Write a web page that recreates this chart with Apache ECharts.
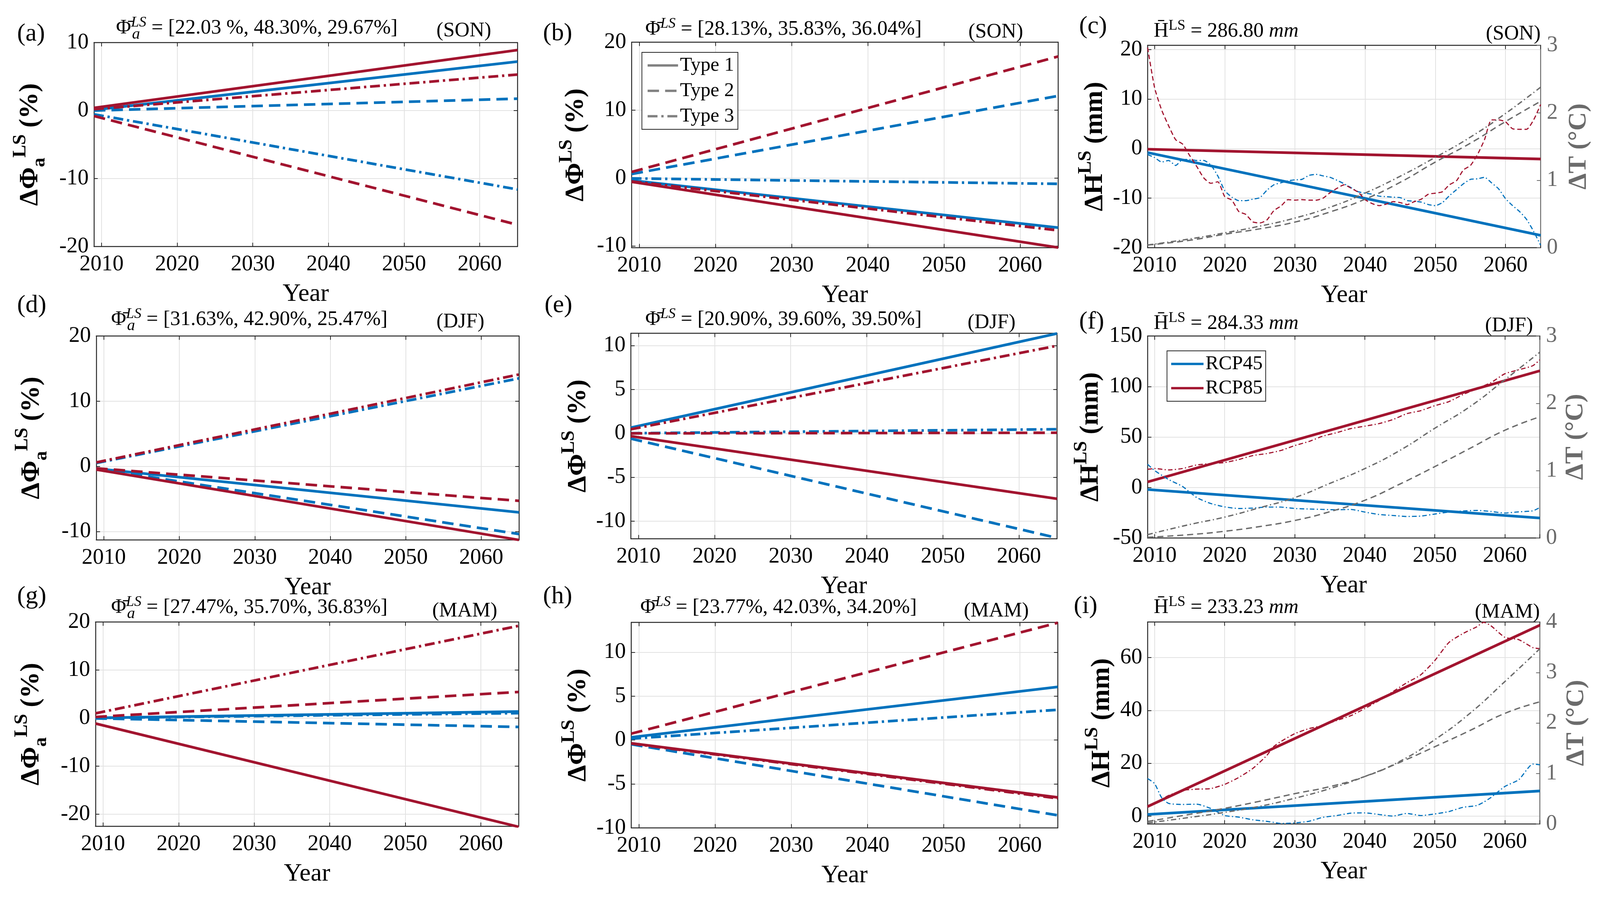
<!DOCTYPE html>
<html>
<head>
<meta charset="utf-8">
<title>LS trends</title>
<script src="https://cdn.jsdelivr.net/npm/echarts@6.0.0/dist/echarts.min.js"></script>
<style>
html, body { margin: 0; padding: 0; background: #fff; overflow: hidden; }
#chart { width: 100vw; height: 100vh; }
</style>
</head>
<body>
<div id="chart"></div>
<script>
var FONT = 'Liberation Serif';
var BLUE = '#0072BD';
var RED = '#A2142F';
var GREY = '#6b6b6b';
var INK = '#262626';
var GRID_LINE = '#e2e2e2';

// ---- data ----
var seasons = ['(SON)', '(DJF)', '(MAM)'];
var phiAMeans = ['[22.03 %, 48.30%, 29.67%]', '[31.63%, 42.90%, 25.47%]', '[27.47%, 35.70%, 36.83%]'];
var phiMeans = ['[28.13%, 35.83%, 36.04%]', '[20.90%, 39.60%, 39.50%]', '[23.77%, 42.03%, 34.20%]'];
var hMeans = ['286.80', '284.33', '233.23'];

// linear trends, [2009 value, 2065 value] for Type 1, Type 2, Type 3
var trendYears = [2009, 2065];
var phiA_SON_45 = [[0.1, 7.2], [0.0, 1.75], [-0.55, -11.6]];
var phiA_SON_85 = [[0.4, 8.9], [-0.8, -16.8], [0.2, 5.3]];
var phi_SON_45 = [[-0.35, -7.3], [0.6, 12.1], [-0.05, -0.85]];
var phi_SON_85 = [[-0.55, -10.23], [0.9, 17.9], [-0.5, -7.7]];
var phiA_DJF_45 = [[-0.35, -7.06], [-0.35, -10.4], [0.5, 13.5]];
var phiA_DJF_85 = [[-0.5, -11.3], [-0.3, -5.3], [0.6, 14.1]];
var phi_DJF_45 = [[0.65, 11.37], [-0.6, -11.9], [0.02, 0.47]];
var phi_DJF_85 = [[-0.32, -7.45], [0.0, 0.07], [0.47, 9.98]];
var phiA_MAM_45 = [[0.05, 1.37], [-0.05, -1.83], [0.05, 1.04]];
var phiA_MAM_85 = [[-1.12, -22.6], [0.25, 5.45], [1.0, 19.2]];
var phi_MAM_45 = [[0.32, 6.05], [-0.48, -8.57], [0.16, 3.45]];
var phi_MAM_85 = [[-0.36, -6.53], [0.73, 13.36], [-0.4, -6.64]];

// ΔH linear trends [2009, 2065]
var hTrend_SON_45 = [-0.8, -17.5];
var hTrend_SON_85 = [-0.12, -2.1];
var hTrend_DJF_45 = [-2.0, -30.2];
var hTrend_DJF_85 = [5.5, 115.6];
var hTrend_MAM_45 = [0.6, 9.5];
var hTrend_MAM_85 = [3.6, 72.3];

// ΔH running curves
var cYears = [2009, 2010, 2011, 2012, 2013, 2014, 2015, 2016, 2017, 2018,
  2019, 2020, 2021, 2022, 2023, 2024, 2025, 2026, 2027, 2028,
  2029, 2030, 2031, 2032, 2033, 2034, 2035, 2036, 2037, 2038,
  2039, 2040, 2041, 2042, 2043, 2044, 2045, 2046, 2047, 2048,
  2049, 2050, 2051, 2052, 2053, 2054, 2055, 2056, 2057, 2058,
  2059, 2060, 2061, 2062, 2063, 2064, 2065];
var cRed = [20.4, 12.3, 7.8, 4.6, 1.8, 0.9, -1.4, -3.6, -5.9, -7.0,
  -6.7, -9.7, -10.4, -12.7, -13.3, -14.8, -15.0, -14.4, -12.5, -11.6,
  -10.3, -10.4, -10.3, -10.4, -10.4, -10.0, -8.9, -8.0, -7.3, -8.0,
  -8.8, -10.3, -11.1, -11.5, -11.2, -10.7, -10.9, -11.3, -10.7, -10.2,
  -9.2, -9.0, -8.7, -7.3, -6.5, -4.3, -3.4, -1.2, 1.8, 5.8,
  5.8, 5.4, 4.0, 3.9, 3.9, 5.8, 8.9];
var cBlue = [-1.2, -1.8, -2.7, -2.4, -3.4, -2.2, -2.2, -2.4, -2.4, -3.3,
  -5.5, -8.5, -9.8, -10.5, -10.5, -10.2, -9.9, -8.4, -7.3, -6.9,
  -6.5, -6.3, -6.2, -5.4, -5.2, -5.5, -5.8, -6.4, -7.1, -7.9,
  -8.7, -9.0, -9.2, -9.6, -9.7, -9.8, -9.9, -10.5, -10.6, -10.8,
  -11.3, -11.5, -10.9, -9.5, -8.3, -7.1, -6.2, -6.1, -5.8, -6.9,
  -8.1, -10.1, -11.5, -12.7, -14.3, -16.7, -19.5];

var fYears = [2009, 2010, 2012, 2014, 2016, 2018, 2020, 2022, 2024, 2026,
  2028, 2030, 2032, 2034, 2036, 2038, 2040, 2042, 2044, 2046,
  2048, 2050, 2052, 2054, 2056, 2058, 2060, 2062, 2064, 2065];
var fRed = [18.0, 18.8, 17.4, 18.8, 22.3, 23.7, 24.7, 27.7, 31.6, 33.6,
  36.6, 41.5, 45.5, 50.8, 54.3, 58.3, 60.7, 63.2, 67.2, 73.1,
  76.1, 81.0, 85.0, 91.9, 97.8, 103.8, 112.6, 116.6, 120.6, 126.5];
var fBlue = [23.0, 16.8, 7.9, 1.0, -9.9, -15.8, -19.2, -20.8, -20.4, -19.4,
  -19.4, -20.8, -21.3, -21.7, -22.1, -21.7, -24.3, -26.7, -27.7, -28.7,
  -28.3, -26.3, -24.3, -23.3, -22.7, -23.7, -25.3, -24.1, -23.1, -19.8];

var iYears = [2009, 2010, 2011, 2012, 2014, 2016, 2018, 2020, 2022, 2024,
  2026, 2027, 2028, 2030, 2032, 2034, 2036, 2038, 2040, 2042,
  2044, 2046, 2048, 2050, 2052, 2054, 2056, 2057, 2058, 2060,
  2062, 2064, 2065];
var iRed = [3.3, 4.8, 6.3, 7.8, 9.7, 10.2, 10.4, 12.0, 14.6, 18.0,
  22.9, 26.3, 28.2, 31.2, 33.1, 34.3, 36.2, 38.0, 40.7, 43.7,
  47.1, 50.5, 53.5, 58.9, 65.7, 69.1, 71.7, 73.4, 72.1, 67.7,
  66.8, 63.8, 63.4];
var iBlue = [14.2, 12.3, 7.0, 4.8, 4.4, 4.5, 2.9, 0.2, -0.4, -1.4,
  -2.0, -2.4, -2.8, -2.6, -2.0, -0.5, 0.2, 1.1, 1.2, 0.6,
  0.0, 1.0, 0.2, 0.8, 1.7, 3.3, 4.0, 5.3, 7.0, 11.2,
  13.8, 19.7, 19.4];

// ΔT (right axis)
var tYears = [2009, 2015, 2020, 2025, 2030, 2035, 2040, 2045, 2050, 2055, 2060, 2065];
var cT45 = [0.04, 0.11, 0.20, 0.28, 0.38, 0.53, 0.72, 0.97, 1.27, 1.55, 1.87, 2.17];
var cT85 = [0.04, 0.13, 0.22, 0.32, 0.44, 0.60, 0.81, 1.06, 1.34, 1.64, 1.99, 2.38];
var fT45 = [0.01, 0.05, 0.10, 0.17, 0.26, 0.39, 0.56, 0.80, 1.06, 1.33, 1.60, 1.80];
var fT85 = [0.05, 0.20, 0.31, 0.45, 0.60, 0.81, 1.03, 1.30, 1.63, 1.95, 2.35, 2.76];
var iT45 = [0.05, 0.19, 0.31, 0.45, 0.60, 0.74, 0.94, 1.22, 1.53, 1.85, 2.19, 2.42];
var iT85 = [0.02, 0.13, 0.23, 0.35, 0.51, 0.70, 0.94, 1.24, 1.67, 2.19, 2.82, 3.47];

// ---- layout is laid out for 4205 x 2301 and scaled to the real viewport ----
var dom = document.getElementById('chart');
var SX = dom.clientWidth / 4205;
var SY = dom.clientHeight / 2301;
function fx(v) { return v * SX; }
function fy(v) { return v * SY; }
function sc(arr) { return typeof arr === 'string' ? arr : arr.map(fx); }

var THICK = ['solid', [30, 16], [26, 10, 6, 10]];
var THIN_DASH = [12, 7];
var THIN_DASHDOT = [12, 6, 3, 6];
var T_DASH = [16, 10];
var T_DASHDOT = [14, 7, 3, 7];

var grids = [], xAxes = [], yAxes = [], series = [], graphics = [];

function tickFmt(step) {
  return function (v) {
    var k = v / step;
    return Math.abs(k - Math.round(k)) < 1e-6 ? String(Math.round(v)) : '';
  };
}

function pairs(xs, ys) {
  return xs.map(function (x, i) { return [x, ys[i]]; });
}

var yNameRich = {
  d: { fontFamily: FONT, fontSize: fx(70), fontWeight: 'bold', lineHeight: fx(100), color: '#000' },
  sup: { fontFamily: FONT, fontSize: fx(50), fontWeight: 'bold', lineHeight: fx(50), verticalAlign: 'top', color: '#000' },
  sub: { fontFamily: FONT, fontSize: fx(50), fontWeight: 'bold', lineHeight: fx(50), verticalAlign: 'bottom', color: '#000' },
  t: { fontFamily: FONT, fontSize: fx(68), fontWeight: 'bold', lineHeight: fx(100), color: GREY }
};

function addPanel(rect, yr, yName, yGap, tr) {
  var gi = grids.length;
  grids.push({ left: fx(rect[0]), top: fy(rect[1]), width: fx(rect[2]), height: fy(rect[3]) });
  var tick = { inside: true, length: fx(10), lineStyle: { color: INK, width: fx(2) } };
  var axisLine = { show: true, onZero: false, lineStyle: { color: INK, width: fx(2.5) } };
  var split = { show: true, lineStyle: { color: GRID_LINE, width: fx(2) } };
  xAxes.push({
    type: 'value', gridIndex: gi, position: 'bottom', min: 2009, max: 2065, minInterval: 10, maxInterval: 10,
    name: 'Year', nameLocation: 'middle', nameGap: fy(90),
    nameTextStyle: { fontFamily: FONT, fontSize: fx(66), color: '#000' },
    axisLine: axisLine, axisTick: tick,
    axisLabel: { fontFamily: FONT, fontSize: fx(58), color: '#000', margin: fy(18), formatter: tickFmt(10) },
    splitLine: split
  });
  xAxes.push({
    type: 'value', gridIndex: gi, position: 'top', min: 2009, max: 2065, minInterval: 10, maxInterval: 10,
    axisLine: axisLine, axisTick: tick, axisLabel: { show: false }, splitLine: { show: false }
  });
  yAxes.push({
    type: 'value', gridIndex: gi, position: 'left', min: yr[0], max: yr[1], minInterval: yr[2], maxInterval: yr[2],
    name: yName, nameLocation: 'middle', nameRotate: 90, nameGap: fx(yGap),
    nameTextStyle: { rich: yNameRich },
    axisLine: axisLine, axisTick: tick,
    axisLabel: { fontFamily: FONT, fontSize: fx(58), color: '#000', margin: fx(14), formatter: tickFmt(yr[2]) },
    splitLine: split
  });
  if (tr) {
    yAxes.push({
      type: 'value', gridIndex: gi, position: 'right', min: 0, max: tr[0], minInterval: 1, maxInterval: 1,
      name: '{t|ΔT (°C)}', nameLocation: 'middle', nameRotate: 90, nameGap: fx(tr[1]),
      nameTextStyle: { rich: yNameRich },
      axisLine: { show: true, onZero: false, lineStyle: { color: GREY, width: fx(2.5) } },
      axisTick: { inside: true, length: fx(10), lineStyle: { color: GREY, width: fx(2) } },
      axisLabel: { fontFamily: FONT, fontSize: fx(58), color: GREY, margin: fx(16), formatter: tickFmt(1) },
      splitLine: { show: false }
    });
  } else {
    yAxes.push({
      type: 'value', gridIndex: gi, position: 'right', min: yr[0], max: yr[1], minInterval: yr[2], maxInterval: yr[2],
      axisLine: axisLine, axisTick: tick, axisLabel: { show: false }, splitLine: { show: false }
    });
  }
  return gi;
}

function line(gi, axis, data, color, width, type, extra) {
  var s = {
    type: 'line', xAxisIndex: gi * 2, yAxisIndex: gi * 2 + axis, data: data,
    symbol: 'none', silent: true, animation: false,
    lineStyle: { color: color, width: fx(width), type: sc(type) }, itemStyle: { color: color }
  };
  for (var k in extra) s[k] = extra[k];
  return s;
}

function addTrendSet(gi, set45, set85) {
  [set45, set85].forEach(function (set, r) {
    set.forEach(function (se, t) {
      series.push(line(gi, 0, pairs(trendYears, se), r ? RED : BLUE, 7, THICK[t], {}));
    });
  });
}

function addHPanel(gi, tr45, tr85, yrs, w45, w85, st45, st85, t45, t85, named) {
  series.push(line(gi, 0, pairs(trendYears, tr45), BLUE, 7, 'solid', named ? { name: 'RCP45' } : {}));
  series.push(line(gi, 0, pairs(trendYears, tr85), RED, 7, 'solid', named ? { name: 'RCP85' } : {}));
  series.push(line(gi, 0, pairs(yrs, w45), BLUE, 3, st45, { smooth: 0.2 }));
  series.push(line(gi, 0, pairs(yrs, w85), RED, 3, st85, { smooth: 0.2 }));
  series.push(line(gi, 1, pairs(tYears, t45), GREY, 3.5, T_DASH, { smooth: true }));
  series.push(line(gi, 1, pairs(tYears, t85), GREY, 3.5, T_DASHDOT, { smooth: true }));
}

var titleRich = {
  m: { fontFamily: FONT, fontSize: fx(54), lineHeight: fx(66), color: '#000' },
  it: { fontFamily: FONT, fontSize: fx(54), fontStyle: 'italic', lineHeight: fx(66), color: '#000' },
  si: { fontFamily: FONT, fontSize: fx(38), fontStyle: 'italic', lineHeight: fx(38), verticalAlign: 'top', color: '#000' },
  su: { fontFamily: FONT, fontSize: fx(38), lineHeight: fx(38), verticalAlign: 'top', color: '#000' }
};

function label(x, y, str, size, extra) {
  var st = {
    text: str, fontFamily: FONT, fontSize: fx(size), fill: '#000',
    align: 'left', textAlign: 'left', verticalAlign: 'middle', textVerticalAlign: 'middle', rich: titleRich
  };
  for (var k in extra) st[k] = extra[k];
  graphics.push({ type: 'text', x: fx(x), y: fy(y), silent: true, style: st });
}

function phiTitle(x, y, mean, withA) {
  label(x, y, '{m|Φ\u0304}{si|LS}{m| = ' + mean + '}', 54);
  if (withA) label(x + 42, y + 16, 'a', 42, { fontStyle: 'italic' });
}

function hTitle(x, y, mean) {
  label(x, y, '{m|H\u0304}{su|LS}{m| = ' + mean + ' }{it|mm}', 54);
}

var PHI_A = '{d|ΔΦ}{sub|a}{sup|LS}{d| (%)}';
var PHI = '{d|ΔΦ}{sup|LS}{d| (%)}';
var HNAME = '{d|ΔH}{sup|LS}{d| (mm)}';

// row 1 (SON)
var ga = addPanel([247, 109, 1113, 522], [-20, 10, 10], PHI_A, 118, null);
addTrendSet(ga, phiA_SON_45, phiA_SON_85);
var gb = addPanel([1660, 108, 1121, 526], [-10.25, 20, 10], PHI, 96, null);
addTrendSet(gb, phi_SON_45, phi_SON_85);
['Type 1', 'Type 2', 'Type 3'].forEach(function (nm, t) {
  series.push(line(gb, 0, [], '#808080', 6, THICK[t], { name: nm }));
});
var gc = addPanel([3016, 116, 1033, 518], [-20, 20.85, 10], HNAME, 88, [3, 50]);
addHPanel(gc, hTrend_SON_45, hTrend_SON_85, cYears, cBlue, cRed, THIN_DASHDOT, THIN_DASH, cT45, cT85, false);

// row 2 (DJF)
var gd = addPanel([253, 860, 1111, 522], [-11.3, 20, 10], PHI_A, 119, null);
addTrendSet(gd, phiA_DJF_45, phiA_DJF_85);
var ge = addPanel([1658, 853, 1120, 526], [-12, 11.4, 5], PHI, 88, null);
addTrendSet(ge, phi_DJF_45, phi_DJF_85);
var gf = addPanel([3016, 860, 1031, 517], [-50, 150, 50], HNAME, 99, [3, 44]);
addHPanel(gf, hTrend_DJF_45, hTrend_DJF_85, fYears, fBlue, fRed, THIN_DASHDOT, THIN_DASHDOT, fT45, fT85, true);

// row 3 (MAM)
var gg = addPanel([251, 1592, 1112, 523], [-22.5, 20, 10], PHI_A, 118, null);
addTrendSet(gg, phiA_MAM_45, phiA_MAM_85);
var gh = addPanel([1659, 1593, 1121, 526], [-10, 13.4, 5], PHI, 89, null);
addTrendSet(gh, phi_MAM_45, phi_MAM_85);
var gI = addPanel([3016, 1592, 1031, 517], [-3, 73.5, 20], HNAME, 70, [4, 46]);
addHPanel(gI, hTrend_MAM_45, hTrend_MAM_85, iYears, iBlue, iRed, THIN_DASHDOT, THIN_DASHDOT, iT45, iT85, false);

// titles
phiTitle(305, 72, phiAMeans[0], true);
phiTitle(1696, 75, phiMeans[0], false);
hTitle(3032, 80, hMeans[0]);
phiTitle(292, 818, phiAMeans[1], true);
phiTitle(1696, 818, phiMeans[1], false);
hTitle(3032, 828, hMeans[1]);
phiTitle(292, 1555, phiAMeans[2], true);
phiTitle(1683, 1555, phiMeans[2], false);
hTitle(3032, 1555, hMeans[2]);

label(1147, 79, seasons[0], 54);
label(2545, 82, seasons[0], 54);
label(4049, 87, seasons[0], 54, { align: 'right', textAlign: 'right' });
label(1147, 824, seasons[1], 54);
label(2543, 826, seasons[1], 54);
label(4029, 834, seasons[1], 54, { align: 'right', textAlign: 'right' });
label(1136, 1564, seasons[2], 54);
label(2533, 1564, seasons[2], 54);
label(4047, 1567, seasons[2], 54, { align: 'right', textAlign: 'right' });

// panel letters
[['(a)', 45, 87], ['(b)', 1427, 86], ['(c)', 2836, 68],
 ['(d)', 45, 782], ['(e)', 1431, 782], ['(f)', 2836, 824],
 ['(g)', 45, 1527], ['(h)', 1427, 1527], ['(i)', 2822, 1552]].forEach(function (p) {
  label(p[1], p[2], p[0], 66);
});

var legendBase = {
  orient: 'vertical', selectedMode: false, backgroundColor: '#fff',
  borderColor: INK, borderWidth: fx(2), borderRadius: 0,
  textStyle: { fontFamily: FONT, fontSize: fx(52), color: '#000' },
  lineStyle: { width: fx(6) }, itemStyle: { opacity: 0 }
};

var option = {
  backgroundColor: '#fff',
  animation: false,
  textStyle: { fontFamily: FONT },
  grid: grids,
  xAxis: xAxes,
  yAxis: yAxes,
  legend: [
    Object.assign({}, legendBase, {
      data: ['Type 1', 'Type 2', 'Type 3'], left: fx(1687), top: fy(134),
      padding: [fy(8), fx(10), fy(8), fx(12)], itemWidth: fx(80), itemHeight: fy(46), itemGap: fy(14)
    }),
    Object.assign({}, legendBase, {
      data: ['RCP45', 'RCP85'], left: fx(3067), top: fy(898),
      padding: [fy(8), fx(8), fy(8), fx(8)], itemWidth: fx(85), itemHeight: fy(46), itemGap: fy(11)
    })
  ],
  graphic: graphics,
  series: series
};

var chart = echarts.init(dom);
chart.setOption(option);
</script>
</body>
</html>
